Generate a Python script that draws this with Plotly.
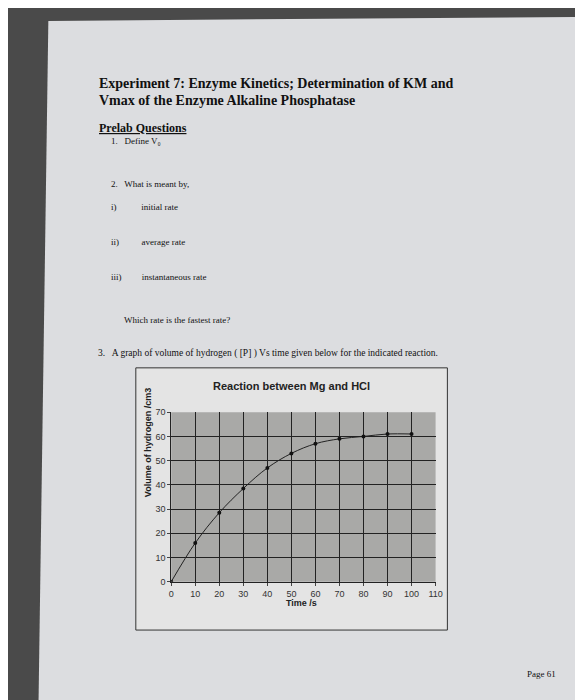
import plotly.graph_objects as go

time_s = [0, 10, 20, 30, 40, 50, 60, 70, 80, 90, 100]
volume_cm3 = [0, 16, 28.5, 38.5, 47, 53, 57, 59, 60, 61, 61]

W, H = 583, 700


def px(x, y):
    return x / W, 1 - y / H


fig = go.Figure()
fig.add_trace(go.Scatter(
    x=time_s, y=volume_cm3, mode="lines+markers",
    line=dict(color="#222", width=1, shape="spline"),
    marker=dict(color="#111", size=4), showlegend=False,
))

x0, y0 = px(163, 577)
x1, y1 = px(432, 405)
axis_font = dict(family="Liberation Sans", size=9, color="#333")
fig.update_layout(
    width=W, height=H, margin=dict(l=0, r=0, t=0, b=0),
    paper_bgcolor="#4a4a4a", plot_bgcolor="#a9a9a7",
    xaxis=dict(domain=[x0, x1], range=[0, 110], dtick=10, showgrid=True,
               gridcolor="#222", gridwidth=1, zeroline=False, tickfont=axis_font,
               ticks="outside", ticklen=3, linecolor="#222"),
    yaxis=dict(domain=[y0, y1], range=[0, 70], dtick=10, showgrid=True,
               gridcolor="#222", gridwidth=1, zeroline=False, tickfont=axis_font,
               ticks="outside", ticklen=3, linecolor="#222"),
)

# paper sheet, chart frame and plot area
shapes = [
    dict(type="path", xref="paper", yref="paper", layer="below",
         path="M {} {} L {} {} L {} {} L {} {} Z".format(*px(38, 8), *px(583, 4), *px(583, 700), *px(28, 700)),
         fillcolor="#dcdde0", line=dict(width=0)),
    dict(type="rect", xref="paper", yref="paper", layer="below",
         x0=px(127, 0)[0], x1=px(444, 0)[0], y0=px(0, 626)[1], y1=px(0, 360)[1],
         fillcolor="#e4e4e4", line=dict(color="#333", width=1)),
    dict(type="rect", xref="paper", yref="paper", layer="below",
         x0=x0, x1=x1, y0=y0, y1=y1, fillcolor="#a9a9a7", line=dict(width=0)),
]
fig.update_layout(shapes=shapes)

serif = "Liberation Serif"
texts = [
    (88, 72, "<b>Experiment 7: Enzyme Kinetics; Determination of KM and</b>", 14),
    (88, 89, "<b>Vmax of the Enzyme Alkaline Phosphatase</b>", 14),
    (88, 117, "<b><u>Prelab Questions</u></b>", 12),
    (100, 130, "1.   Define V₀", 9),
    (100, 173, "2.   What is meant by,", 9),
    (100, 197, "i)           initial rate", 9),
    (100, 232, "ii)          average rate", 9),
    (100, 268, "iii)         instantaneous rate", 9),
    (113, 311, "Which rate is the fastest rate?", 9),
    (86, 345, "3.   A graph of volume of hydrogen ( [P] ) Vs time given below for the indicated reaction.", 9.5),
    (540, 671, "Page 61", 9),
]
ann = []
for x, y, t, s in texts:
    ax, ay = px(x, y)
    ann.append(dict(x=ax, y=ay, xref="paper", yref="paper", text=t, showarrow=False,
                    xanchor="left" if x < 500 else "center", yanchor="middle",
                    font=dict(family=serif, size=s, color="#111")))
cx, cy = px(285, 378)
ann.append(dict(x=cx, y=cy, xref="paper", yref="paper", text="<b>Reaction between Mg and HCl</b>",
                showarrow=False, font=dict(family="Liberation Sans", size=11, color="#222")))
tx, ty = px(296, 606)
ann.append(dict(x=tx, y=ty, xref="paper", yref="paper", text="<b>Time /s</b>",
                showarrow=False, font=dict(family="Liberation Sans", size=9, color="#222")))
vx, vy = px(133, 493)
ann.append(dict(x=vx, y=vy, xref="paper", yref="paper", text="<b>Volume of hydrogen /cm3</b>",
                textangle=-90, showarrow=False, font=dict(family="Liberation Sans", size=9, color="#222")))
fig.update_layout(annotations=ann)

fig.write_html("out.html")
